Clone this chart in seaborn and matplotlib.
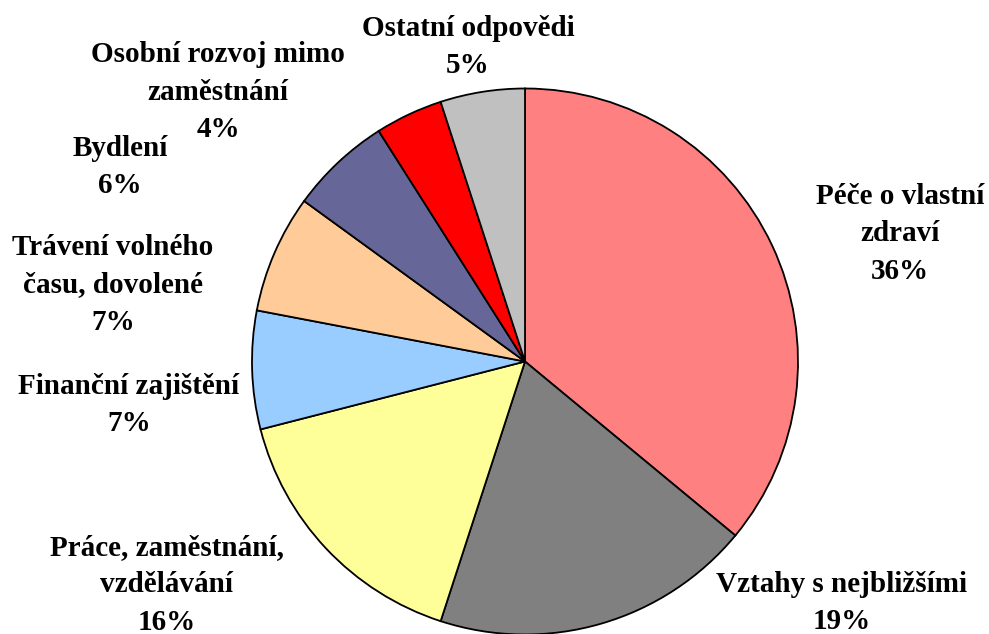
import matplotlib
matplotlib.use("Agg")
import matplotlib.pyplot as plt
import seaborn as sns

sns.set_theme(style="white")
plt.rcParams['font.family'] = ['Liberation Serif', 'DejaVu Serif']
plt.rcParams['text.color'] = 'black'

# Data
categories = ["Péče o vlastní\nzdraví", "Vztahy s nejbližšími",
              "Práce, zaměstnání,\nvzdělávání", "Finanční zajištění",
              "Trávení volného\nčasu, dovolené", "Bydlení",
              "Osobní rozvoj mimo\nzaměstnání", "Ostatní odpovědi"]
shares = [36, 19, 16, 7, 7, 6, 4, 5]
colors = ["#FF8080", "#808080", "#FFFF99", "#99CCFF",
          "#FFCC99", "#666699", "#FF0000", "#C0C0C0"]

# label centres in pixels (x, y from top)
label_pos = [(900, 234), (842, 603), (167, 585), (129, 405),
             (113, 285), (120, 167), (218, 92), (468, 47)]

W, H = 989, 634
cx, cy, r = 525, 361.5, 273

fig = plt.figure(figsize=(W / 100, H / 100), dpi=100)
ax = fig.add_axes([0, 0, 1, 1])

ax.pie(shares, colors=colors, startangle=90, counterclock=False,
       wedgeprops=dict(edgecolor="black", linewidth=1.3))
ax.set_xlim(-cx / r, (W - cx) / r)
ax.set_ylim(-(H - cy) / r, cy / r)
ax.set_aspect("equal")
ax.axis("off")

for cat, val, (px, py) in zip(categories, shares, label_pos):
    ax.text((px - cx) / r, (cy - py) / r, f"{cat}\n{val}%",
            ha="center", va="center", fontsize=21, fontweight="bold",
            linespacing=1.48, color="black")

fig.savefig("out.png", dpi=100, facecolor="white")
